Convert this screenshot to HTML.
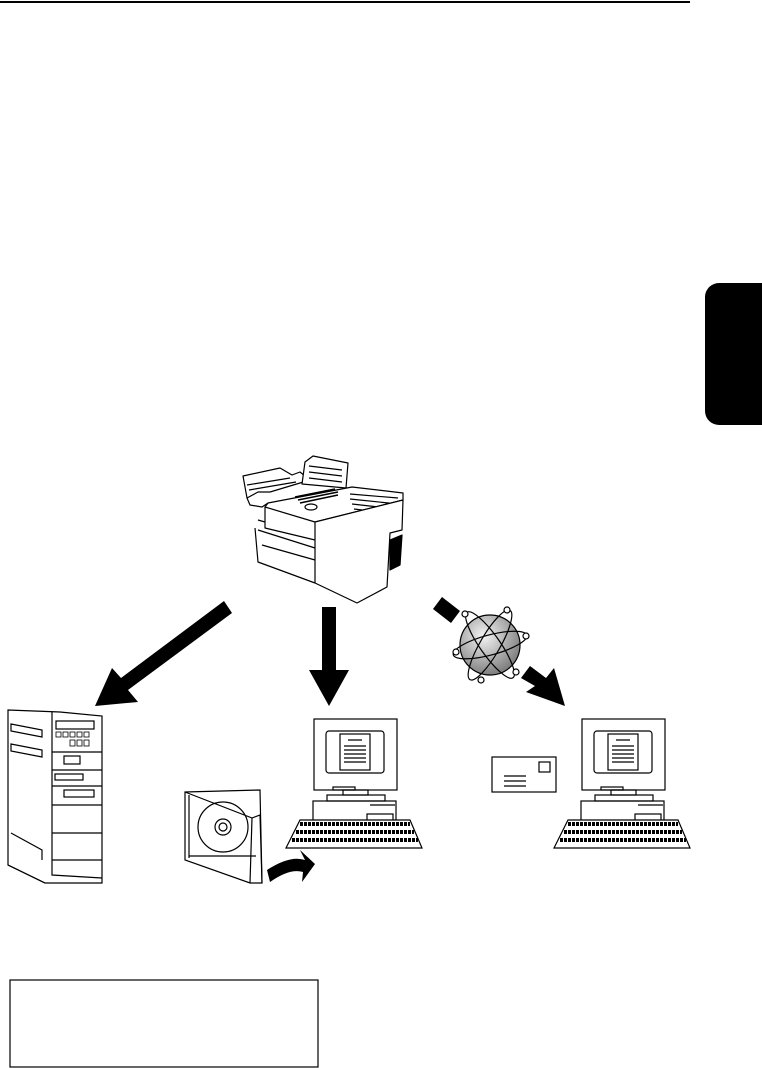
<!DOCTYPE html>
<html><head><style>body{margin:0;background:#fff}svg{display:block}</style></head><body>
<svg width="762" height="1068" viewBox="0 0 762 1068" xmlns="http://www.w3.org/2000/svg" fill="none" stroke="#000" stroke-width="1.2">
<line x1="0" y1="2" x2="690" y2="2" stroke-width="2"/>
<rect x="705" y="283" width="70" height="142" rx="14" fill="#000" stroke="none"/>
<!-- fax -->
<g stroke-linejoin="round">
<path d="M243 476 L280 468 L292 475 L300 472 L310 480 L270 492 L258 492 L247 498 Z"/>
<path d="M247 485 L290 478 M249 490 L296 482"/>
<path d="M247 498 L250 505 L262 507 L268 503"/>
<path d="M305 462 L313 456 L348 463 L346 488 L302 484 Z" fill="#fff"/>
<path d="M309 466 L342 470 M309 472 L342 476 M309 478 L342 482"/>
<path d="M268 503 L352 487 L403 493 L403 500 L315 522 L265 507 Z" fill="#fff"/>
<path d="M295 497 L335 489 M298 500 L338 492 M300 503 L338 495" stroke-width="1.5"/>
<ellipse cx="311" cy="507" rx="6" ry="3"/>
<path d="M350 494 L398 498 M350 499 L398 504 M352 504 L396 509 M354 509 L394 514"/>
<path d="M265 507 L265 528 L315 540"/>
<path d="M258 520 L265 522 M255 528 L258 562 L315 583 M258 530 L315 548 M262 545 L315 560"/>
<path d="M315 522 L403 500 L402 530 L390 533 L387 587 L357 603 L315 583 Z" fill="#fff"/>
<path d="M390 540 L402 535 L400 565 L390 570 Z" fill="#000"/>
</g>
<!-- arrows -->
<g fill="#000" stroke="none">
<polygon points="224,601 232,613 128,690 138,702 95,706 112,668 121,678"/>
<polygon points="322,607 336,607 336,670 349,670 329,706 309,670 322,670"/>
<polygon points="433,609 442,597 460,611 451,623"/>
<polygon points="521,678 530,666 546,678 554,668 565,706 526,692 535,686"/>
<path d="M267 870 Q290 855 305 860 L300 850 L315 864 L302 882 L303 872 Q290 868 270 882 Z"/>
</g>
<!-- globe -->
<defs><radialGradient id="g" cx="0.4" cy="0.35" r="0.7"><stop offset="0" stop-color="#f4f4f4"/><stop offset="1" stop-color="#777"/></radialGradient></defs>
<circle cx="490" cy="645" r="30" fill="url(#g)"/>
<ellipse cx="490" cy="645" rx="38" ry="10" transform="rotate(-15 490 645)"/>
<ellipse cx="490" cy="645" rx="40" ry="10" transform="rotate(55 490 645)"/>
<ellipse cx="490" cy="645" rx="40" ry="10" transform="rotate(120 490 645)"/>
<g fill="#fff"><circle cx="456" cy="652" r="3"/><circle cx="507" cy="610" r="3"/><circle cx="465" cy="614" r="3"/><circle cx="481" cy="680" r="3"/><circle cx="516" cy="672" r="3"/><circle cx="526" cy="636" r="3"/></g>
<!-- server -->
<path d="M8 710 L60 712 L102 716 L102 868 L102 883 L45 883 L8 865 Z"/>
<path d="M52 712 L52 875 L102 878 M8 865 L45 883"/>
<rect x="56" y="721" width="38" height="8"/>
<g stroke-width="0.8"><rect x="56" y="732" width="5" height="5"/><rect x="63" y="732" width="5" height="5"/><rect x="70" y="732" width="5" height="5"/><rect x="77" y="732" width="5" height="5"/><rect x="84" y="732" width="5" height="5"/><rect x="70" y="740" width="5" height="6"/><rect x="77" y="740" width="5" height="6"/><rect x="84" y="740" width="5" height="6"/></g>
<line x1="52" y1="752" x2="102" y2="752"/><rect x="64" y="756" width="16" height="8"/>
<line x1="52" y1="770" x2="102" y2="770"/><rect x="55" y="774" width="28" height="6"/>
<line x1="52" y1="786" x2="102" y2="786"/><rect x="64" y="790" width="30" height="7"/>
<line x1="52" y1="805" x2="102" y2="805"/><line x1="52" y1="833" x2="102" y2="833"/><line x1="52" y1="860" x2="102" y2="860"/>
<path d="M11 724 L42 730 L42 737 L11 731 Z M11 744 L42 750 L42 757 L11 751 Z M11 833 L42 850 L42 860"/>
<!-- CD -->
<path d="M185 792 L260 790 L262 883 L250 883 L185 860 Z"/>
<path d="M185 792 L252 818 L250 883 M252 818 L260 815 L262 883 M189 795 L189 858"/>
<circle cx="223" cy="827" r="25"/><circle cx="223" cy="827" r="8"/><circle cx="223" cy="827" r="4"/>
<line x1="189" y1="856" x2="256" y2="856"/>
<!-- PC -->
<g id="pc">
<rect x="314" y="719" width="83" height="71"/>
<rect x="326" y="731" width="58" height="42" rx="3"/>
<rect x="340" y="734" width="30" height="36" fill="#fff"/>
<path d="M348 740 H362 M344 746 H366 M344 750 H366 M344 754 H366 M344 758 H366 M344 762 H366"/>
<rect x="333" y="787" width="22" height="3"/>
<rect x="343" y="790" width="25" height="5"/>
<rect x="327" y="795" width="58" height="6"/>
<rect x="313" y="801" width="83" height="20"/>
<line x1="370" y1="805" x2="395" y2="805"/>
<rect x="367" y="814" width="26" height="8"/>
<path d="M300 820 L410 820 L422 848 L286 848 Z" fill="#fff"/>
<path d="M300 824 L410 824 M296 832 L414 832 M292 840 L418 840" stroke-width="4" stroke-dasharray="3 1"/>
</g>
<use href="#pc" transform="translate(268 0)"/>
<!-- envelope -->
<rect x="492" y="757" width="64" height="35"/>
<rect x="539" y="762" width="11" height="10"/>
<path d="M504 776 H526 M504 781 H526 M504 786 H526"/>
<rect x="10" y="980" width="308" height="87"/>
</svg>
</body></html>
